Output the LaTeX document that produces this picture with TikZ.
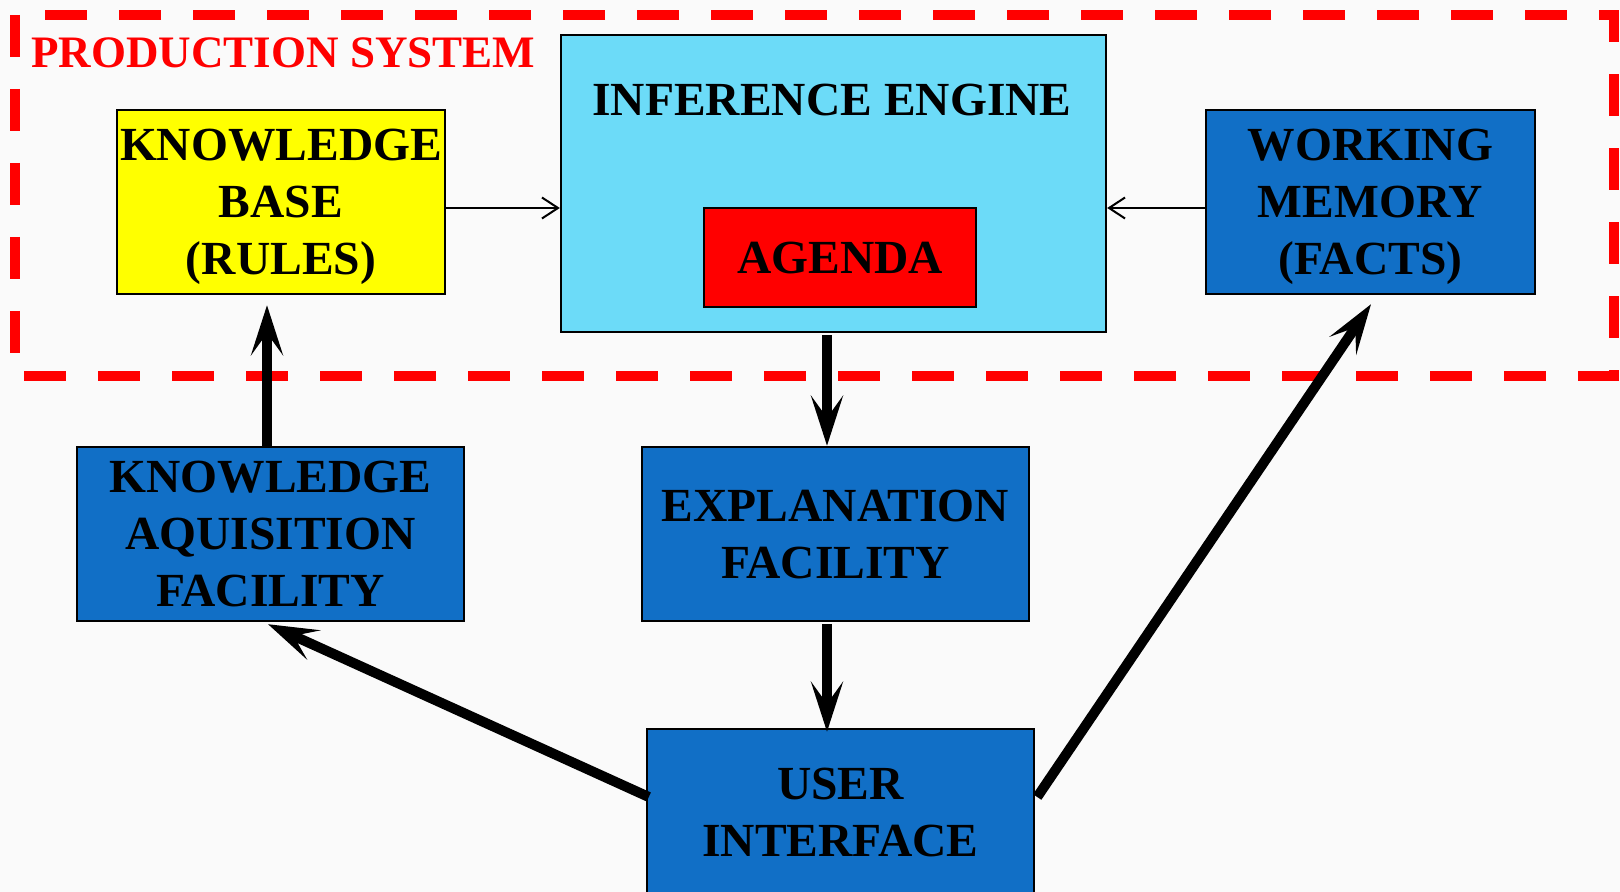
\documentclass[tikz,border=0pt]{standalone}
\usepackage{fontspec}
\setmainfont{Liberation Serif}
\usetikzlibrary{arrows.meta,calc}

\definecolor{pagebg}{RGB}{250,250,250}
\definecolor{kbyellow}{RGB}{255,255,0}
\definecolor{iecyan}{RGB}{108,219,248}
\definecolor{boxblue}{RGB}{17,111,198}
\definecolor{psred}{RGB}{255,0,0}

\newcommand\blocktext{\fontsize{23.75pt}{28.5pt}\selectfont\bfseries}
\newcommand\systitle{\fontsize{22.5pt}{27pt}\selectfont\bfseries}

\begin{document}
\begin{tikzpicture}[x=0.5pt,y=-0.5pt,
  block/.style={draw=black,line width=1.2pt,inner sep=0pt,align=center,
    font=\blocktext,text=black,text depth=-1pt},
  bluebox/.style={block,fill=boxblue},
  thinarrow/.style={draw=black,line width=1pt,
    -{Straight Barb[length=8pt,width=10.5pt]}},
  thickarrow/.style={draw=black,line width=5pt,
    -{Stealth[length=25pt,width=16pt,inset=11pt]}},
  region/.style={draw=psred,line width=5pt,dash pattern=on 21pt off 16pt}
]
  % page
  \fill[pagebg] (0,0) rectangle (1620,892);
  \useasboundingbox (0,0) rectangle (1620,892);

  % production system boundary
  \draw[region] (15,15) rectangle (1614,376);
  \node[anchor=base west,inner sep=0pt,text=psred,font=\systitle]
    (pstitle) at (31,68) {PRODUCTION SYSTEM};

  % production system components
  \node[block,fill=kbyellow,minimum width=164pt,minimum height=92pt]
    (kb) at (281,202) {KNOWLEDGE\\BASE\\(RULES)};
  \node[block,fill=iecyan,minimum width=272.5pt,minimum height=148.5pt]
    (ie) at (833.5,183.5) {};
  \node[anchor=base,inner sep=0pt,font=\blocktext]
    (ietitle) at (832,116) {INFERENCE ENGINE};
  \node[block,fill=psred,minimum width=136pt,minimum height=49.5pt]
    (agenda) at (840,257.5) {AGENDA};
  \node[bluebox,minimum width=164.5pt,minimum height=92pt]
    (wm) at (1370.5,202) {WORKING\\MEMORY\\(FACTS)};

  % facilities
  \node[bluebox,minimum width=193.5pt,minimum height=87pt]
    (kaf) at (270.5,534) {KNOWLEDGE\\AQUISITION\\FACILITY};
  \node[bluebox,minimum width=193.5pt,minimum height=87pt]
    (ef) at (835.5,534) {EXPLANATION\\FACILITY};
  \node[bluebox,minimum width=193.5pt,minimum height=83pt]
    (ui) at (840.5,812) {USER\\INTERFACE};

  % connectors
  \draw[thinarrow] ($(kb.east)+(0,-3pt)$) -- ($(kb.east -| ie.west)+(0,-3pt)$);
  \draw[thinarrow] ($(wm.west)+(0,-3pt)$) -- ($(wm.west -| ie.east)+(0,-3pt)$);

  \draw[thickarrow] ($(ie.south)+(-3.25pt,-1pt)$) -- ($(ie.south |- ef.north)+(-3.25pt,0)$);
  \draw[thickarrow] ($(ef.south)+(-4.25pt,-1pt)$) -- ($(ef.south |- ui.north)+(-4.25pt,-2pt)$);
  \draw[thickarrow] ($(kaf.north)+(-1.75pt,0)$) -- ($(kaf.north |- kb.south)+(-1.75pt,-5pt)$);
  \draw[thickarrow] ($(ui.west)+(1.5pt,7.5pt)$) -- ($(kaf.south)+(-1.25pt,-1pt)$);
  \draw[thickarrow] ($(ui.east)+(1pt,7.5pt)$) -- ($(wm.south)+(0.25pt,-4.5pt)$);
\end{tikzpicture}
\end{document}
